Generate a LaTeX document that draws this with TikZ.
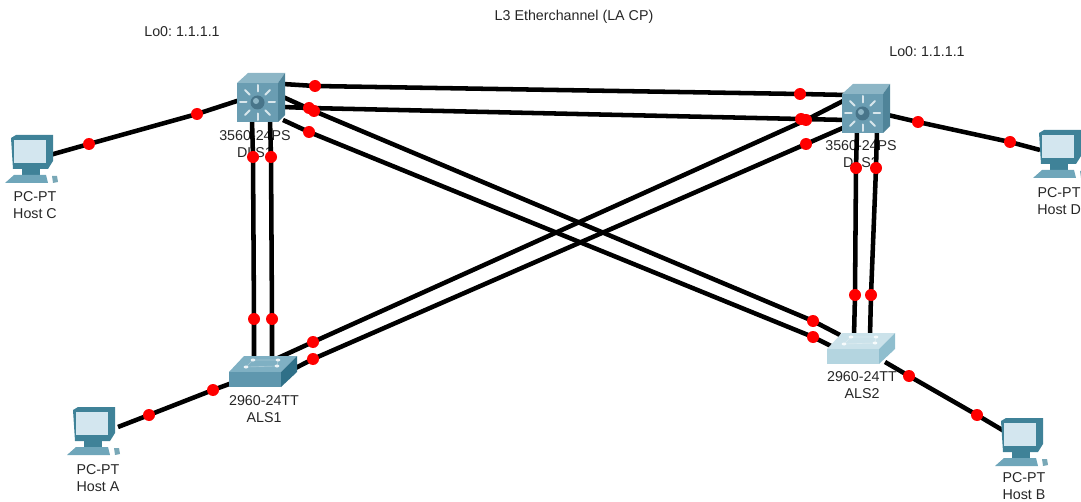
\documentclass[tikz,border=0pt]{standalone}
\usepackage{fontspec}
\setmainfont{Liberation Sans}
\pgfdeclarelayer{lab}\pgfdeclarelayer{lnk}\pgfsetlayers{lab,lnk,main}
\definecolor{msfront}{HTML}{6A9DB2}
\definecolor{mstop}{HTML}{8DB6C6}
\definecolor{msside}{HTML}{4F8499}
\definecolor{msray}{HTML}{D8E6EC}
\definecolor{msball}{HTML}{48758A}
\definecolor{swfront}{HTML}{5F97AE}
\definecolor{swtop}{HTML}{7FB0C3}
\definecolor{swside}{HTML}{2F7088}
\definecolor{lswfront}{HTML}{B4D5E0}
\definecolor{lswtop}{HTML}{CBE2EA}
\definecolor{lswside}{HTML}{8FBECE}
\definecolor{pcdark}{HTML}{3F8298}
\definecolor{pcmid}{HTML}{6FA6BA}
\definecolor{pcscreen}{HTML}{D3E6EF}
\tikzset{
  x=0.75pt,y=-0.75pt,
  link/.style={line width=3.4pt,black,line cap=butt},
  rdot/.style={circle,fill=red,draw=none,minimum size=9pt,inner sep=0pt},
  lbl/.style={font=\fontsize{10.7pt}{12.9pt}\selectfont,align=center,inner sep=0pt,text=black!85},
  note/.style={font=\fontsize{10.7pt}{12pt}\selectfont,inner sep=0pt,text=black!85},
  pics/mls/.style={code={
    \fill[mstop] (0,0) -- (11,-10) -- (48,-10) -- (41,0) -- cycle;
    \fill[msside] (41,0) -- (48,-10) -- (48,32) -- (41,39) -- cycle;
    \fill[msfront] (0,0) rectangle (41,39);
    \foreach \a in {0,45,...,315}{
      \draw[msray,line width=1.5pt,line cap=round] (20.5,19.5)++(\a:11) -- ++(\a:6.5);
    }
    \fill[msball] (20.5,19.5) circle[radius=7];
    \fill[mstop] (19,18) circle[radius=3];
  }},
  pics/l2sw/.style n args={3}{code={
    \fill[#2] (0,16) -- (15,0) -- (68,0) -- (52,16) -- cycle;
    \fill[#3] (52,16) -- (68,0) -- (68,16) -- (52,31) -- cycle;
    \fill[#1] (0,16) rectangle (52,31);
    \draw[white!30!#2,line width=.5pt] (24,4) -- (49,4) -- (48,10) -- (17,11) -- cycle;
    \foreach \p in {(24,4),(49,4),(17,11),(48,10)}{ \fill[white!85!#2] \p ellipse[x radius=2.4,y radius=1.5]; }
  }},
  pics/pc/.style={code={
    \fill[pcdark] (3,1) -- (8,-2) -- (45,-2) -- (45,24) -- (40,32) -- (5,32) -- cycle;
    \fill[pcscreen] (6,3) -- (38,3) -- (38,26) -- (6,26) -- cycle;
    \fill[pcdark] (14,32) rectangle (32,38);
    \fill[pcmid] (6,38) -- (38,38) -- (40,46) -- (-3,46) -- cycle;
    \fill[pcdark!70] (44,39) -- (49,39) -- (50,45) -- (45,46) -- cycle;
  }},
}
\begin{document}
\begin{tikzpicture}
\useasboundingbox (0,0) rectangle (1081,502);
% device icons
\pic at (237,83) {mls};
\pic at (842,94) {mls};
\pic at (229,356) {l2sw={swfront}{swtop}{swside}};
\pic at (827,333) {l2sw={lswfront}{lswtop}{lswside}};
\pic at (8,137) {pc};
\pic at (70,409) {pc};
\pic at (998,420) {pc};
\pic at (1036,132) {pc};
% device ports
\coordinate (hostC) at (50,155);   \coordinate (d1C) at (240,100);
\coordinate (d1e1) at (283,84);    \coordinate (d2e1) at (848,95);
\coordinate (d1e2) at (283,107);   \coordinate (d2e2) at (848,120);
\coordinate (d1x1) at (283,97);    \coordinate (a2x1) at (840,335);
\coordinate (d1x2) at (283,120);   \coordinate (a2x2) at (835,348);
\coordinate (d2x1) at (845,100);   \coordinate (a1x1) at (278,358);
\coordinate (d2x2) at (845,127);   \coordinate (a1x2) at (280,376);
\coordinate (d1v1) at (252,120);   \coordinate (a1v1) at (254,358);
\coordinate (d1v2) at (270,120);   \coordinate (a1v2) at (272,358);
\coordinate (d2v1) at (857,130);   \coordinate (a2v1) at (854,336);
\coordinate (d2v2) at (877,130);   \coordinate (a2v2) at (870,336);
\coordinate (a1H) at (232,383);    \coordinate (hostA) at (118,427);
\coordinate (a2H) at (885,362);    \coordinate (hostB) at (1004,431);
\coordinate (d2H) at (888,115);    \coordinate (hostD) at (1040,150);
% link dots
\foreach \n/\x/\y in {
  p1/89/144,p2/197/114,p3/315/86,p4/800/94,p5/309/108,p6/801/119,
  p7/314/111,p8/813/321,p9/309/132,p10/813/337,p11/806/120,p12/313/342,
  p13/806/144,p14/313/359,p15/253/157,p16/254/319,p17/271/157,p18/272/319,
  p19/856/168,p20/855/295,p21/876/168,p22/871/295,p23/213/390,p24/149/415,
  p25/909/376,p26/977/415,p27/918/122,p28/1010/142}{
  \node[rdot] (\n) at (\x,\y) {};
}
\begin{pgfonlayer}{lnk}
\draw[link] (hostC) -- (p1.center) -- (p2.center) -- (d1C);
\draw[link] (d1e1) -- (p3.center) -- (p4.center) -- (d2e1);
\draw[link] (d1e2) -- (p5.center) -- (p6.center) -- (d2e2);
\draw[link] (d1x1) -- (p7.center) -- (p8.center) -- (a2x1);
\draw[link] (d1x2) -- (p9.center) -- (p10.center) -- (a2x2);
\draw[link] (d2x1) -- (p11.center) -- (p12.center) -- (a1x1);
\draw[link] (d2x2) -- (p13.center) -- (p14.center) -- (a1x2);
\draw[link] (d1v1) -- (p15.center) -- (p16.center) -- (a1v1);
\draw[link] (d1v2) -- (p17.center) -- (p18.center) -- (a1v2);
\draw[link] (d2v1) -- (p19.center) -- (p20.center) -- (a2v1);
\draw[link] (d2v2) -- (p21.center) -- (p22.center) -- (a2v2);
\draw[link] (a1H) -- (p23.center) -- (p24.center) -- (hostA);
\draw[link] (a2H) -- (p25.center) -- (p26.center) -- (hostB);
\draw[link] (d2H) -- (p27.center) -- (p28.center) -- (hostD);
\end{pgfonlayer}
\begin{pgfonlayer}{lab}
\node[lbl] (tDLS1) at (255,144) {3560-24PS\\DLS1};
\node[lbl] (tDLS2) at (861,154) {3560-24PS\\DLS2};
\node[lbl] (tALS1) at (264,409) {2960-24TT\\ALS1};
\node[lbl] (tALS2) at (862,385) {2960-24TT\\ALS2};
\node[lbl] (tHC) at (35,205) {PC-PT\\Host C};
\node[lbl] (tHA) at (98,478) {PC-PT\\Host A};
\node[lbl] (tHB) at (1024,486) {PC-PT\\Host B};
\node[lbl,anchor=west] (tHD) at (1037,201) {PC-PT\\Host D};
\node[note] (lo1) at (182,32) {Lo0:\ 1.1.1.1};
\node[note] (lo2) at (927,52) {Lo0:\ 1.1.1.1};
\node[note] (title) at (574,17) {L3 Etherchannel (LA CP)};
\end{pgfonlayer}
\end{tikzpicture}
\end{document}
